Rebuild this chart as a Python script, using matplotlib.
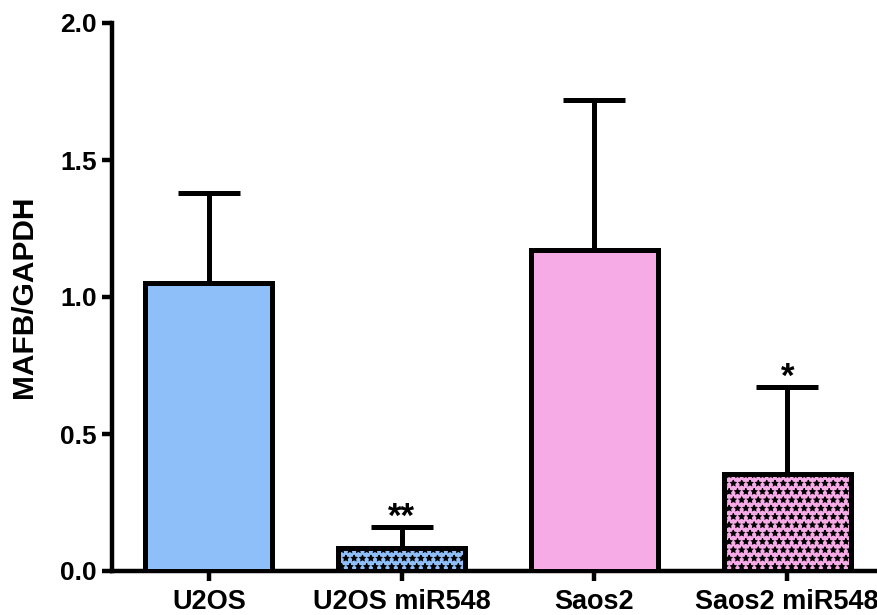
import matplotlib
matplotlib.use("Agg")
import matplotlib.pyplot as plt

# MAFB expression relative to GAPDH
groups = ["U2OS", "U2OS miR548", "Saos2", "Saos2 miR548"]
means = [1.05, 0.085, 1.17, 0.355]
sd = [0.33, 0.075, 0.55, 0.315]
marks = ["", "**", "", "*"]
bar_colors = ["#8fbff8", "#8fbff8", "#f6aae6", "#f6aae6"]
hatches = [None, "**", None, "**"]

plt.rcParams["font.family"] = ["Liberation Sans", "DejaVu Sans"]
plt.rcParams["font.weight"] = "bold"
plt.rcParams["hatch.color"] = "#1a1a1a"
plt.rcParams["hatch.linewidth"] = 0.8

fig = plt.figure(figsize=(8.78, 6.15), dpi=100)
W, H = 878, 615
ax = fig.add_axes([112 / W, 1 - 571 / H, (876 - 112) / W, (571 - 23) / H])

x = range(len(groups))
bars = ax.bar(x, means, width=0.66, color=bar_colors, edgecolor="black",
              linewidth=3.6, zorder=3)
for b, h in zip(bars, hatches):
    if h:
        b.set_hatch(h)

ax.errorbar(x, means, yerr=[[0] * len(sd), sd], fmt="none", ecolor="black",
            elinewidth=3.6, capsize=22.5, capthick=3.6, zorder=2)

# significance stars just above the caps
for i, (m, s, t) in enumerate(zip(means, sd, marks)):
    if t:
        ax.text(i, m + s - 0.025, t, ha="center", va="bottom",
                fontsize=25, fontweight="bold")

ax.set_xlim(-0.502, 3.46)
ax.set_ylim(0, 2.0)
ax.set_yticks([0, 0.5, 1.0, 1.5, 2.0])
ax.set_yticklabels(["0.0", "0.5", "1.0", "1.5", "2.0"])
ax.set_xticks(list(x))
ax.set_xticklabels(groups)
ax.set_ylabel("MAFB/GAPDH", fontsize=21.5, fontweight="bold", labelpad=16)

for side in ["top", "right"]:
    ax.spines[side].set_visible(False)
for side in ["left", "bottom"]:
    ax.spines[side].set_linewidth(3.2)

ax.tick_params(axis="y", labelsize=19, width=3.2, length=7, pad=4)
ax.tick_params(axis="x", labelsize=19.5, width=3.2, length=7, pad=6)

fig.savefig("out.png", dpi=100)
